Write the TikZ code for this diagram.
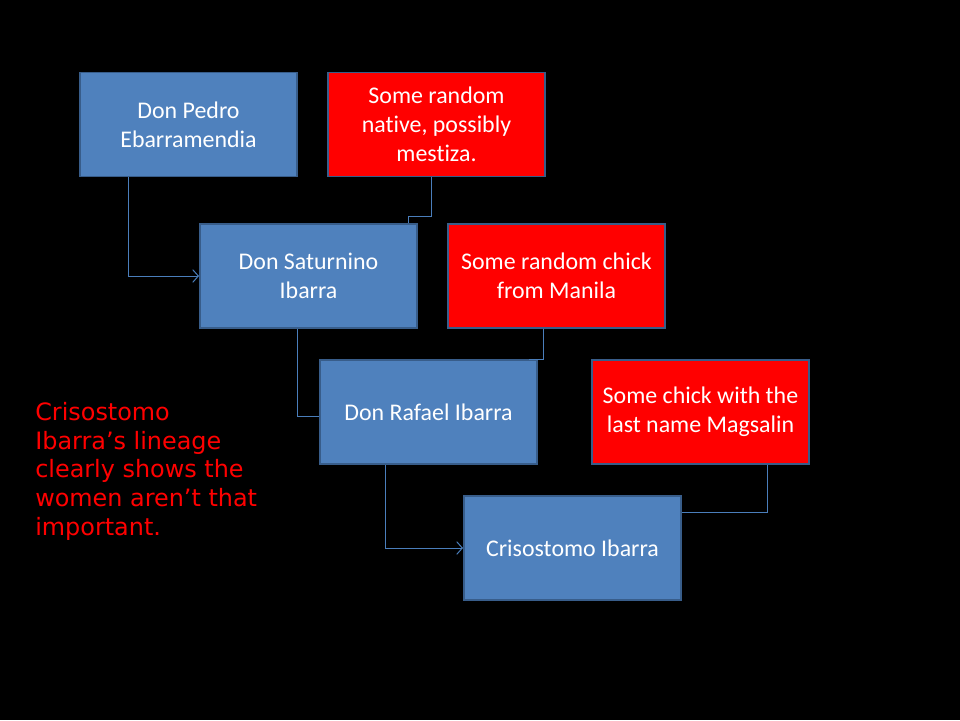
\documentclass[tikz,border=0pt]{standalone}
\usepackage{fontspec}
\setmainfont{Carlito}[Ligatures=NoCommon]
\newfontfamily\notefont{DejaVu Sans}
\usetikzlibrary{positioning, arrows.meta}
\definecolor{manblue}{RGB}{79,129,189}
\definecolor{edgeblue}{RGB}{56,93,138}
\definecolor{linkblue}{RGB}{74,126,187}

\begin{document}
\begin{tikzpicture}[
man/.style={draw=edgeblue, line width=1.4pt, fill=manblue, text=white,
minimum width=5.425cm, minimum height=2.6cm, align=center,
font=\fontsize{17}{20.6}\selectfont},
woman/.style={man, fill=red},
link/.style={draw=linkblue, line width=0.7pt},
tip/.style={-{Straight Barb[length=4pt, width=9pt]}}]
\fill[black] (0,0) rectangle (24,-18);
\node (pedro) [man] at (4.7125,-3.1125) {Don Pedro\\Ebarramendia};
\node (native) [woman, right=0.725cm of pedro]
{Some random\\native, possibly\\mestiza.};
\node (satur) [man] at (7.7125,-6.9) {Don Saturnino\\Ibarra};
\node (manila) [woman, right=0.725cm of satur]
{Some random chick\\from Manila};
\node (rafael) [man] at (10.7125,-10.3) {Don Rafael Ibarra};
\node (magsalin) [woman, right=1.325cm of rafael]
{Some chick with the\\last name Magsalin};
\node (cris) [man] at (14.3125,-13.7) {Crisostomo Ibarra};
\node (note) [anchor=north west, inner sep=0pt, text=red, align=left,
font=\notefont\fontsize{17}{20.4}\selectfont] at (0.875,-10.05)
{Crisostomo\\Ibarra’s lineage\\clearly shows the\\women aren’t that\\important.};
\draw[link, tip] ([xshift=-1.5125cm]pedro.south) |- (satur.west);
\draw[link] ([xshift=-0.1125cm]native.south) -- ++(0,-0.975)
-| ([xshift=2.4875cm]satur.north);
\draw[link] ([xshift=-0.2875cm]satur.south) |- ([yshift=-0.1cm]rafael.west);
\draw[link] ([xshift=-0.3125cm]manila.south) |- ([xshift=-0.225cm]rafael.north east);
\draw[link, tip] ([xshift=-1.0875cm]rafael.south) |- (cris.west);
\draw[link] ([xshift=1.6875cm]magsalin.south) |- ([yshift=0.9cm]cris.east);
\end{tikzpicture}
\end{document}
